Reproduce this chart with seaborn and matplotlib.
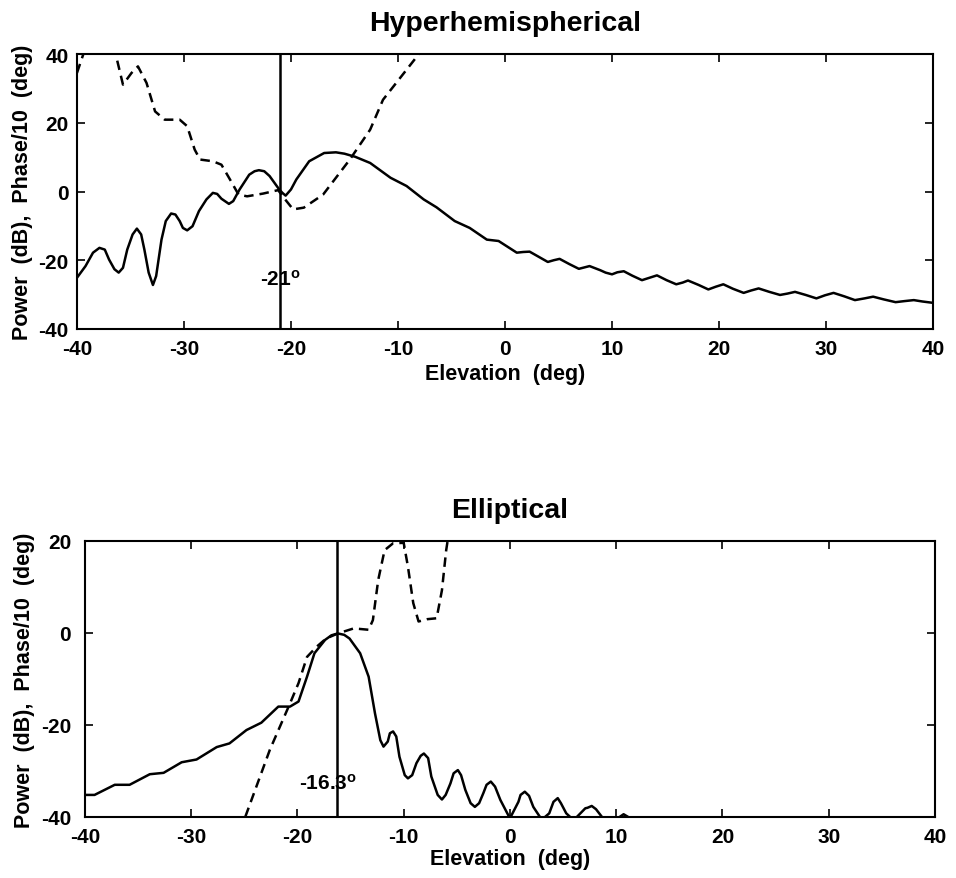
import numpy as np
import pandas as pd
import matplotlib
matplotlib.use("Agg")
import matplotlib.pyplot as plt
import seaborn as sns

# ---------------- data ----------------
top_title = "Hyperhemispherical"
bot_title = "Elliptical"
xlabel = "Elevation  (deg)"
ylabel = "Power  (dB),  Phase/10  (deg)"
x_ticks = [-40, -30, -20, -10, 0, 10, 20, 30, 40]
top_y_ticks = [-40, -20, 0, 20, 40]
bot_y_ticks = [-40, -20, 0, 20]

top_marker = -21.0
top_marker_label = r"-21$^{\mathbf{o}}$"
bot_marker = -16.3
bot_marker_label = r"-16.3$^{\mathbf{o}}$"

top_power_x = [-40.0, -39.2, -38.5, -37.9, -37.4, -37.0, -36.5, -36.1, -35.7, -35.3, -34.8,
               -34.4, -34.0, -33.7, -33.3, -32.9, -32.6, -32.1, -31.7, -31.2, -30.8, -30.4,
               -30.1, -29.7, -29.2, -28.6, -27.9, -27.3, -26.9, -26.5, -25.8, -25.4, -24.8,
               -23.9, -23.4, -23.0, -22.5, -22.0, -21.1, -20.8, -20.5, -20.0, -19.5, -18.3,
               -16.9, -15.8, -15.0, -14.0, -12.6, -10.7, -9.2, -7.6,
               -6.4, -4.7, -3.3, -1.7, -0.6, 0.25, 1.1, 1.7, 2.3, 3.15, 4.0, 4.55, 5.1,
               6.0, 6.9, 7.4, 7.9, 8.9, 9.4, 10.0, 10.5, 11.1, 11.9, 12.8, 13.5, 14.2,
               15.1, 16.0, 16.6, 17.1, 18.1, 19.0, 19.7, 20.4, 21.3, 22.3, 23.0, 23.7,
               24.7, 25.7, 26.4, 27.1, 28.1, 29.1, 29.9, 30.7, 31.7, 32.7, 33.6, 34.4,
               35.4, 36.5, 37.3, 38.2, 39.0, 40.0]
top_power_y = [-25.1, -21.7, -17.8, -16.4, -16.9, -19.8, -22.6, -23.6, -22.2, -16.9, -12.5,
               -10.8, -12.5, -16.9, -23.6, -27.2, -24.6, -14.0, -8.6, -6.4, -6.7, -8.6,
               -10.6, -11.3, -10.1, -5.7, -2.3, -0.4, -0.7, -2.1, -3.6, -2.8, 0.6,
               4.9, 5.9, 6.2, 5.9, 4.5, 0.6, -0.4, -1.2, 0.6, 3.5, 8.8,
               11.2, 11.4, 11.0, 10.1, 8.3, 4.0, 1.6, -2.3,
               -4.6, -8.6, -10.6, -14.0, -14.4, -16.1, -17.8, -17.6, -17.5, -19.0, -20.5, -20.0, -19.6,
               -21.1, -22.5, -22.1, -21.7, -22.9, -23.6, -24.1, -23.5, -23.2, -24.5, -25.8, -25.1, -24.4,
               -25.8, -27.0, -26.5, -25.9, -27.2, -28.5, -27.7, -27.0, -28.3, -29.5, -28.8, -28.2,
               -29.2, -30.1, -29.7, -29.2, -30.1, -31.1, -30.2, -29.5, -30.5, -31.6, -31.1, -30.6,
               -31.4, -32.2, -31.9, -31.6, -32.0, -32.4]

top_phase_x = [-40.0, -39.4, -38.0, -36.5, -36.3, -35.7, -34.9, -34.3, -33.5, -32.7, -31.8,
               -30.4, -29.7, -29.0, -28.5, -27.3, -26.5, -25.7, -24.9, -24.1, -22.6, -21.2,
               -20.6, -19.8, -18.8, -17.0, -14.5, -12.6, -11.4, -8.1, -7.0]
top_phase_y = [34.5, 40.0, 48.0, 44.0, 38.9, 31.1, 34.5, 36.4, 31.6, 23.3, 20.9,
               20.9, 19.0, 12.2, 9.3, 8.8, 7.8, 3.5, -0.9, -1.4, -0.6, 0.4,
               -2.1, -5.2, -4.7, -0.9, 9.3, 18.0, 26.7, 39.8, 44.0]

bot_power_x = [-40.0, -39.1, -37.2, -35.8, -33.9, -32.6, -30.9, -29.5, -27.6, -26.4, -24.8,
               -23.4, -21.8, -20.7, -19.9, -19.1, -18.4, -17.4, -16.8, -16.2, -15.6, -15.1,
               -14.1, -13.3, -12.7, -12.2, -11.9, -11.5, -11.3, -11.0, -10.7, -10.4, -9.9,
               -9.6, -9.2, -8.8, -8.4, -8.1, -7.7, -7.4, -6.8, -6.4, -6.05, -5.6, -5.3,
               -4.9, -4.6, -4.2, -3.7, -3.3, -2.9, -2.5, -2.2, -1.8, -1.4, -0.9, 0.0,
               0.8, 1.0, 1.4, 1.8, 2.2, 3.0, 3.7, 4.1, 4.5, 4.8, 5.3, 6.0, 7.1, 7.3,
               7.7, 8.1, 8.5, 9.0, 10.0, 10.7, 11.5, 13.0, 20.0, 30.0, 40.0]
bot_power_y = [-35.2, -35.2, -33.0, -33.0, -30.7, -30.4, -28.1, -27.5, -24.8, -24.0, -21.1,
               -19.5, -16.0, -16.0, -14.9, -9.5, -4.4, -1.5, -0.5, -0.1, -0.4, -1.2,
               -4.4, -9.5, -17.5, -23.3, -24.7, -23.6, -21.8, -21.4, -22.5, -26.9, -30.9,
               -31.6, -30.9, -28.3, -26.7, -26.2, -27.2, -31.2, -35.2, -36.2, -35.2, -32.7, -30.5,
               -29.8, -30.9, -34.1, -37.0, -37.8, -37.0, -34.8, -33.0, -32.3, -33.4, -36.3, -40.3,
               -36.7, -35.2, -34.5, -35.4, -37.8, -40.6, -39.2, -36.7, -35.9, -37.0, -39.2, -40.7, -38.1, -38.0,
               -37.6, -38.3, -39.5, -41.0, -40.5, -39.4, -40.5, -45.0, -45.0, -45.0, -45.0]

bot_phase_x = [-25.5, -24.9, -22.6, -20.7, -19.9, -19.1, -18.2, -17.3, -16.2, -14.7, -13.3,
               -12.9, -12.4, -11.8, -11.0, -10.0, -9.6, -9.1, -8.6, -7.8, -6.9, -6.4,
               -6.0, -5.6]
bot_phase_y = [-43.0, -39.9, -25.4, -15.3, -10.9, -5.2, -3.0, -1.2, -0.1, 1.0, 0.7,
               2.8, 11.5, 18.0, 19.5, 19.6, 14.4, 6.5, 2.5, 3.0, 3.2, 9.3,
               18.0, 24.0]

# ---------------- style ----------------
sns.set_style("ticks")
plt.rcParams["font.family"] = ["Liberation Sans", "DejaVu Sans"]
plt.rcParams["font.weight"] = "bold"
plt.rcParams["axes.unicode_minus"] = False
plt.rcParams["mathtext.fontset"] = "custom"
plt.rcParams["mathtext.rm"] = "Liberation Sans:bold"
plt.rcParams["mathtext.bf"] = "Liberation Sans:bold"
plt.rcParams["mathtext.it"] = "Liberation Sans:bold"
for k in ["text.color", "axes.labelcolor", "xtick.color", "ytick.color", "axes.edgecolor"]:
    plt.rcParams[k] = "black"

fig = plt.figure(figsize=(9.56, 8.79), dpi=100)
ax1 = fig.add_axes([0.0805, 0.6246, 0.8955, 0.3128])
ax2 = fig.add_axes([0.0889, 0.0694, 0.889, 0.3140])

lw = 1.8
dash = (3.8, 2.4)

def style(ax, yticks, title, ypad, xlpad):
    ax.set_xlim(-40, 40)
    ax.set_ylim(yticks[0], yticks[-1])
    ax.set_xticks(x_ticks)
    ax.set_yticks(yticks)
    ax.tick_params(axis="both", direction="in", length=6, width=1.2, top=True, right=True,
                   labelsize=15)
    ax.tick_params(axis="x", pad=7)
    ax.tick_params(axis="y", pad=ypad)
    for lab in ax.get_xticklabels() + ax.get_yticklabels():
        lab.set_fontweight("bold")
    for s in ax.spines.values():
        s.set_linewidth(1.5)
    ax.set_xlabel(xlabel, fontsize=15.5, fontweight="bold", labelpad=xlpad)
    ax.set_ylabel(ylabel, fontsize=15.5, fontweight="bold", labelpad=4)
    ax.set_title(title, fontsize=20.5, fontweight="bold", pad=17)

# top
df_tp = pd.DataFrame({"x": top_power_x, "y": top_power_y})
df_tf = pd.DataFrame({"x": top_phase_x, "y": top_phase_y})
sns.lineplot(data=df_tp, x="x", y="y", ax=ax1, color="black", linewidth=lw, estimator=None, sort=False)
sns.lineplot(data=df_tf, x="x", y="y", ax=ax1, color="black", linewidth=lw, estimator=None, sort=False,
             linestyle=(0, dash))
ax1.axvline(top_marker, color="black", linewidth=lw)
ax1.text(top_marker, -25.5, top_marker_label, ha="center", va="center", fontsize=15, fontweight="bold")
style(ax1, top_y_ticks, top_title, 6, 4)

# bottom
df_bp = pd.DataFrame({"x": bot_power_x, "y": bot_power_y})
df_bf = pd.DataFrame({"x": bot_phase_x, "y": bot_phase_y})
sns.lineplot(data=df_bp, x="x", y="y", ax=ax2, color="black", linewidth=lw, estimator=None, sort=False)
sns.lineplot(data=df_bf, x="x", y="y", ax=ax2, color="black", linewidth=lw, estimator=None, sort=False,
             linestyle=(0, dash))
ax2.axvline(bot_marker, color="black", linewidth=lw)
ax2.text(bot_marker - 0.8, -32.5, bot_marker_label, ha="center", va="center", fontsize=15, fontweight="bold")
style(ax2, bot_y_ticks, bot_title, 10, 2)

fig.savefig("out.png", dpi=100, facecolor="white")
